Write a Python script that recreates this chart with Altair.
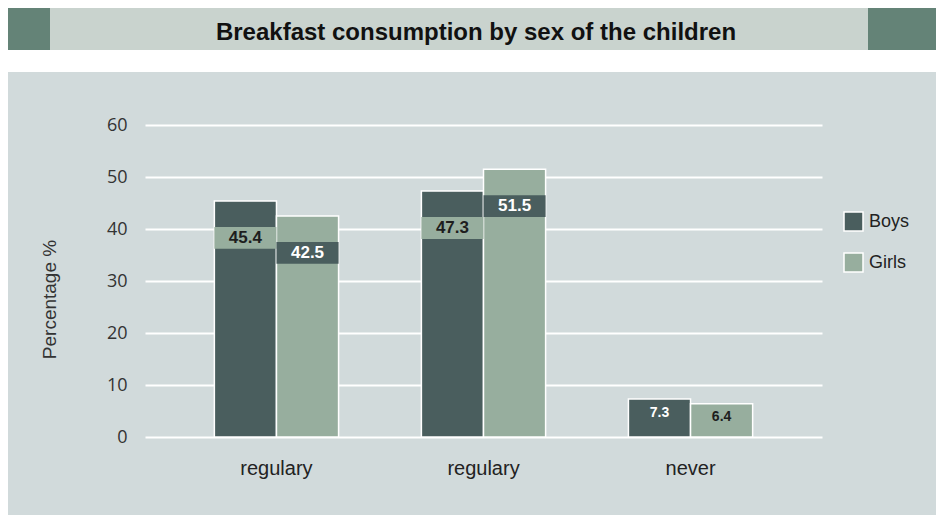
import altair as alt
import pandas as pd

# ---- data ----
categories = ["regulary", "regulary", "never"]
sexes = ["Boys", "Girls"]
boys = [45.4, 47.3, 7.3]
girls = [42.5, 51.5, 6.4]
y_ticks = [0, 10, 20, 30, 40, 50, 60]
title_text = "Breakfast consumption by sex of the children"
y_title = "Percentage %"

# ---- styles ----
BOYS_C = "#4a5e5e"
GIRLS_C = "#97ae9e"
PANEL = "#d1dadb"
BAND = "#c9d3ce"
BLOCK = "#648377"
TXT = "#1e1e1e"

rows = []
for i, c in enumerate(categories):
    rows.append({"idx": i, "cat": c, "sex": "Boys", "value": boys[i]})
    rows.append({"idx": i, "cat": c, "sex": "Girls", "value": girls[i]})
df = pd.DataFrame(rows)

label_expr = "[" + ",".join("'%s'" % c for c in categories) + "][datum.value]"

x_enc = alt.X(
    "idx:N",
    sort="ascending",
    scale=alt.Scale(paddingInner=0.4, paddingOuter=0.335),
    axis=alt.Axis(labelExpr=label_expr, title=None, labelAngle=0, ticks=False,
                  domain=False, labelPadding=21, labelFontSize=20,
                  labelColor="#222222", labelFont="Liberation Sans", grid=False),
)
xoff = alt.XOffset("sex:N", sort=sexes, scale=alt.Scale(paddingInner=0))
y_axis = alt.Axis(values=y_ticks, grid=True, gridColor="white", gridWidth=2,
                  domain=False, ticks=False, labelPadding=18, labelFontSize=18,
                  labelColor="#333333", labelFont="Open Sans",
                  title=y_title, titleFontSize=19, titleFontWeight="normal",
                  titleColor="#333333", titleFont="Liberation Sans",
                  titleX=-86, titleY=174, titleAngle=-90)
y_scale = alt.Scale(domain=[0, 60], nice=False, zero=True)

one = alt.Data(values=[{}])

white_strip = alt.Chart(one).mark_rect(color="white").encode(
    x=alt.value(-137), x2=alt.value(791), y=alt.value(-117), y2=alt.value(-53))
band = alt.Chart(one).mark_rect(color=BAND).encode(
    x=alt.value(-95), x2=alt.value(723), y=alt.value(-117), y2=alt.value(-75))
block_l = alt.Chart(one).mark_rect(color=BLOCK).encode(
    x=alt.value(-137), x2=alt.value(-95), y=alt.value(-117), y2=alt.value(-75))
block_r = alt.Chart(one).mark_rect(color=BLOCK).encode(
    x=alt.value(723), x2=alt.value(791), y=alt.value(-117), y2=alt.value(-75))
title = alt.Chart(one).mark_text(
    font="Liberation Sans", fontWeight="bold", fontSize=24, color="#111111",
    align="center", baseline="middle").encode(
    x=alt.value(331), y=alt.value(-92), text=alt.value(title_text))

bars = alt.Chart(df).mark_bar(stroke="white", strokeWidth=1.5).encode(
    x=x_enc, xOffset=xoff,
    y=alt.Y("value:Q", scale=y_scale, axis=y_axis),
    color=alt.Color("sex:N", scale=alt.Scale(domain=sexes, range=[BOYS_C, GIRLS_C]),
                    legend=alt.Legend(orient="none", legendX=698, legendY=86,
                                      title=None, symbolType="square", symbolSize=361,
                                      symbolStrokeColor="white", symbolStrokeWidth=1.5,
                                      symbolOpacity=1, labelFontSize=18,
                                      labelFont="Liberation Sans", labelColor="#222222",
                                      labelOffset=5, rowPadding=16)),
)

boxes = alt.Chart(df).transform_filter("datum.value > 20").transform_calculate(
    top="datum.value - 5", bot="datum.value - 9.2",
    bcol="datum.sex == 'Boys' ? '%s' : '%s'" % (GIRLS_C, BOYS_C),
).mark_bar().encode(
    x=x_enc, xOffset=xoff,
    y=alt.Y("top:Q", scale=y_scale, axis=y_axis), y2="bot:Q",
    color=alt.Color("bcol:N", scale=None),
)

labels = alt.Chart(df).transform_calculate(
    ty="datum.value > 20 ? datum.value - 7.1 : datum.value - 2.6",
    tcol="((datum.sex == 'Boys') == (datum.value > 20)) ? '%s' : 'white'" % TXT,
    tsize="datum.value > 20 ? 17 : 14",
).mark_text(font="Liberation Sans", fontWeight="bold", baseline="middle",
            align="center").encode(
    x=x_enc, xOffset=xoff,
    y=alt.Y("ty:Q", scale=y_scale, axis=y_axis),
    text=alt.Text("value:Q", format=".1f"),
    color=alt.Color("tcol:N", scale=None),
    size=alt.Size("tsize:Q", scale=None),
)

chart = alt.layer(white_strip, band, block_l, block_r, title, bars, boxes, labels).properties(
    width=677, height=312, background=PANEL,
    padding={"left": 137, "top": 117, "right": 114, "bottom": 78},
    autosize=alt.AutoSizeParams(type="none"),
).configure_view(stroke=None, fill=None)

chart.save("out.html", embed_options={"renderer": "svg", "actions": False})
